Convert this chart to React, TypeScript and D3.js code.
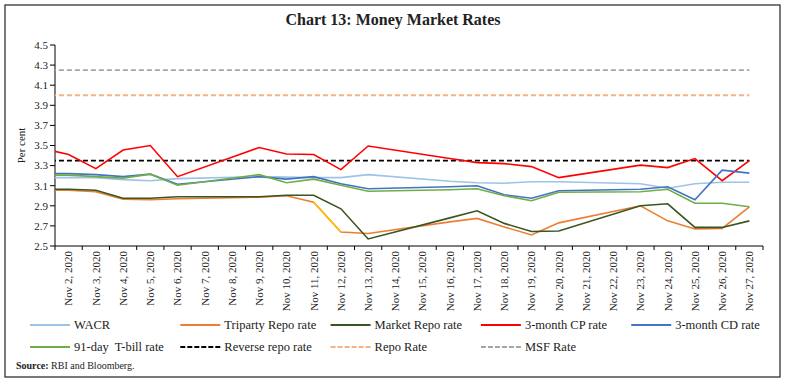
import React from 'react';
import * as d3 from 'd3';

// business days shown (first one is the previous Friday, clipped at the axis)
const dates = [
	'2020-10-30', '2020-11-02', '2020-11-03', '2020-11-04', '2020-11-05', '2020-11-06',
	'2020-11-09', '2020-11-10', '2020-11-11', '2020-11-12', '2020-11-13',
	'2020-11-16', '2020-11-17', '2020-11-18', '2020-11-19', '2020-11-20',
	'2020-11-23', '2020-11-24', '2020-11-25', '2020-11-26', '2020-11-27',
];

const wacr = [3.18, 3.18, 3.18, 3.16, 3.15, 3.17, 3.19, 3.185, 3.18, 3.18, 3.21, 3.145, 3.13, 3.125, 3.14, 3.14, 3.12, 3.075, 3.12, 3.135, 3.135];
const triparty = [3.055, 3.055, 3.04, 2.965, 2.96, 2.97, 2.985, 3.0, 2.935, 2.64, 2.625, 2.74, 2.775, 2.69, 2.61, 2.73, 2.9, 2.75, 2.67, 2.675, 2.89];
const marketRepo = [3.065, 3.065, 3.055, 2.975, 2.975, 2.99, 2.99, 3.005, 3.005, 2.87, 2.57, 2.78, 2.85, 2.725, 2.645, 2.65, 2.9, 2.92, 2.685, 2.685, 2.75];
const cpRate = [3.6, 3.41, 3.27, 3.455, 3.5, 3.19, 3.48, 3.415, 3.41, 3.26, 3.495, 3.37, 3.33, 3.32, 3.29, 3.18, 3.305, 3.28, 3.37, 3.15, 3.35];
const cdRate = [3.22, 3.22, 3.21, 3.19, 3.215, 3.115, 3.19, 3.165, 3.19, 3.12, 3.07, 3.09, 3.1, 3.01, 2.975, 3.05, 3.065, 3.09, 2.96, 3.255, 3.225];
const tbill91 = [3.205, 3.205, 3.19, 3.175, 3.215, 3.105, 3.21, 3.13, 3.165, 3.105, 3.045, 3.06, 3.07, 3.0, 2.95, 3.035, 3.04, 3.065, 2.925, 2.925, 2.89];

const reverseRepo = 3.35;
const repoRate = 4.0;
const msfRate = 4.25;

// the triparty segment drawn in gold
const triHighlight = ['2020-11-11', '2020-11-12'];

const axisStart = '2020-11-02';
const axisEnd = '2020-11-28';
const yTicks = [2.5, 2.7, 2.9, 3.1, 3.3, 3.5, 3.7, 3.9, 4.1, 4.3, 4.5];

const series = [
	{ name: 'WACR', values: wacr, color: '#9DC3E6' },
	{ name: 'Triparty Repo rate', values: triparty, color: '#ED7D31' },
	{ name: 'Market Repo rate', values: marketRepo, color: '#375623' },
	{ name: '3-month CP rate', values: cpRate, color: '#FF0000' },
	{ name: '3-month CD rate', values: cdRate, color: '#4472C4' },
	{ name: '91-day  T-bill rate', values: tbill91, color: '#70AD47' },
];

const policy = [
	{ name: 'Reverse repo rate', value: reverseRepo, color: '#000000' },
	{ name: 'Repo Rate', value: repoRate, color: '#F4B183' },
	{ name: 'MSF Rate', value: msfRate, color: '#A5A5A5' },
];

const font = '"Liberation Serif", "DejaVu Serif", serif';
const noon = (s) => new Date(s + 'T12:00:00Z');

const App = () => {
	const margin = { top: 45, left: 55, right: 23, bottom: 141 };
	const W = 786;
	const H = 387;

	const x = d3
		.scaleUtc()
		.domain([new Date(axisStart + 'T00:00:00Z'), new Date(axisEnd + 'T00:00:00Z')])
		.range([margin.left, W - margin.right]);
	const y = d3.scaleLinear().domain([2.5, 4.5]).range([H - margin.bottom, margin.top]);

	const days = d3.utcDay.range(x.domain()[0], x.domain()[1]);
	const tickDays = d3.utcDay.range(x.domain()[0], d3.utcDay.offset(x.domain()[1], 1));
	const fmt = d3.utcFormat('%b %-d, %Y');

	const line = d3
		.line()
		.x((d) => x(noon(d[0])))
		.y((d) => y(d[1]));

	const lastDate = dates[dates.length - 1];
	const y0 = y.range()[0];
	const legendX = (i) => 30 + 150.3 * i;

	return (
		<svg width={W} height={H} style={{ position: 'absolute', left: 0, top: 0 }} fontFamily={font}>
			<defs>
				<clipPath id="plot">
					<rect x={margin.left} y={margin.top - 5} width={W - margin.left - margin.right} height={y0 - margin.top + 5} />
				</clipPath>
			</defs>
			<rect x={5} y={5} width={775} height={372} fill="#fff" stroke="#333" strokeWidth={1.3} />
			<text x={393} y={25} textAnchor="middle" fontSize={16} fontWeight="bold" fill="#222">
				Chart 13: Money Market Rates
			</text>

			{/* y axis */}
			<line x1={margin.left} x2={margin.left} y1={margin.top} y2={y0} stroke="#000" />
			{yTicks.map((t) => (
				<g key={t}>
					<line x1={margin.left - 5} x2={margin.left} y1={y(t)} y2={y(t)} stroke="#000" />
					<text x={margin.left - 7} y={y(t)} dy="0.35em" textAnchor="end" fontSize={11} fill="#222">
						{t.toFixed(1)}
					</text>
				</g>
			))}
			<text transform={`translate(25,${(margin.top + y0) / 2}) rotate(-90)`} textAnchor="middle" fontSize={11} fill="#222">
				Per cent
			</text>

			{/* x axis */}
			<line x1={margin.left} x2={W - margin.right} y1={y0} y2={y0} stroke="#000" />
			{tickDays.map((d) => (
				<line key={+d} x1={x(d)} x2={x(d)} y1={y0} y2={y0 + 4} stroke="#000" />
			))}
			{days.map((d) => (
				<text
					key={+d}
					transform={`translate(${x(d3.utcHour.offset(d, 12))},${y0 + 5}) rotate(-90)`}
					dy="0.35em"
					textAnchor="end"
					fontSize={11}
					fill="#222"
				>
					{fmt(d)}
				</text>
			))}

			<g clipPath="url(#plot)">
				{policy.map((p) => (
					<path
						key={p.name}
						d={line([[dates[0], p.value], [lastDate, p.value]])}
						fill="none"
						stroke={p.color}
						strokeWidth={1.8}
						strokeDasharray="5,3"
					/>
				))}
				{series.map((s) => (
					<path
						key={s.name}
						d={line(dates.map((dt, i) => [dt, s.values[i]]))}
						fill="none"
						stroke={s.color}
						strokeWidth={1.6}
					/>
				))}
				<path
					d={line(triHighlight.map((dt) => [dt, triparty[dates.indexOf(dt)]]))}
					fill="none"
					stroke="#FFC000"
					strokeWidth={1.6}
				/>
			</g>

			{/* legend */}
			{series.map((s, i) => {
				const col = i < 5 ? i : 0;
				const row = i < 5 ? 0 : 1;
				const lx = legendX(col);
				const ly = 325 + row * 22;
				return (
					<g key={s.name}>
						<line x1={lx} x2={lx + 40} y1={ly} y2={ly} stroke={s.color} strokeWidth={2.2} />
						<text x={lx + 44} y={ly} dy="0.35em" fontSize={12.5} fill="#222" style={{ whiteSpace: 'pre' }}>
							{s.name}
						</text>
					</g>
				);
			})}
			{policy.map((p, i) => {
				const lx = legendX(i + 1);
				const ly = 347;
				return (
					<g key={p.name}>
						<line x1={lx} x2={lx + 40} y1={ly} y2={ly} stroke={p.color} strokeWidth={2} strokeDasharray="5,2" />
						<text x={lx + 44} y={ly} dy="0.35em" fontSize={12.5} fill="#222">
							{p.name}
						</text>
					</g>
				);
			})}

			<text x={16} y={369} fontSize={10} fill="#222">
				<tspan fontWeight="bold">Source: </tspan>
				RBI and Bloomberg.
			</text>
		</svg>
	);
};

export default App;
